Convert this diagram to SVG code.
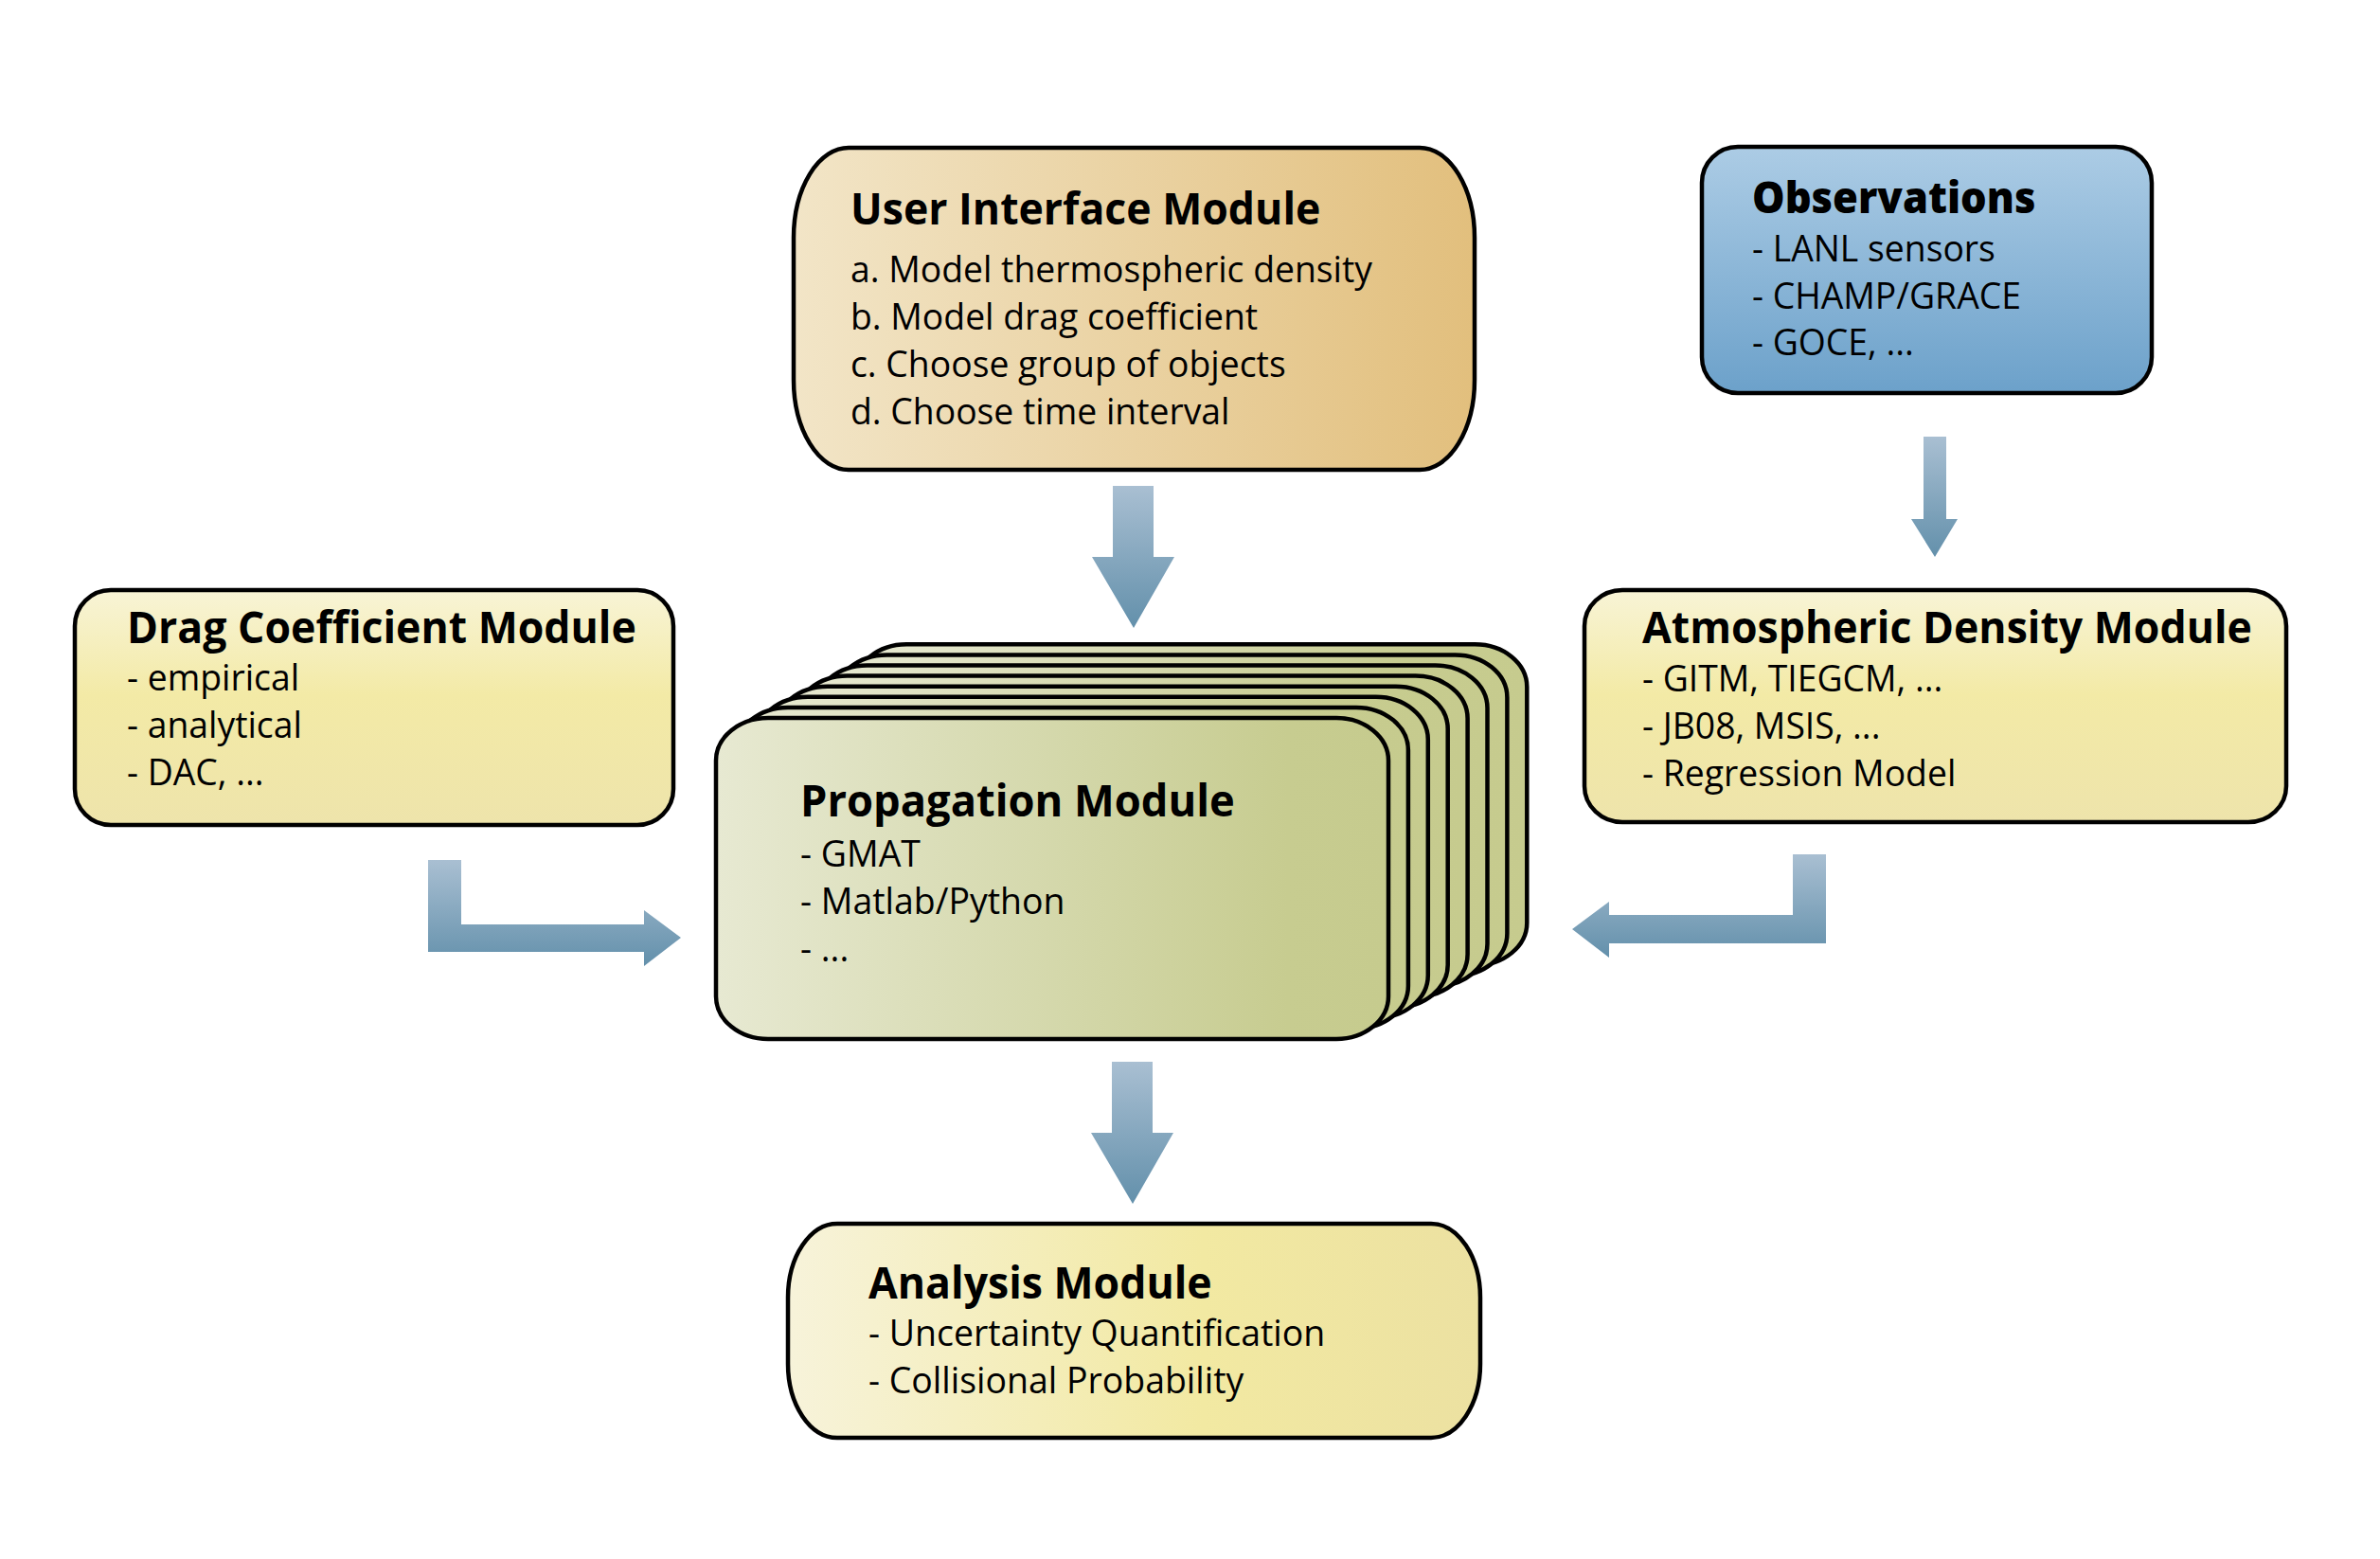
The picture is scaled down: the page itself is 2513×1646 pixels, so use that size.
<svg xmlns="http://www.w3.org/2000/svg" xmlns:xlink="http://www.w3.org/1999/xlink" width="2513" height="1646" viewBox="0 0 2513 1646">
<defs>
<style>
.box{stroke:#000;stroke-width:4.5}
.t{font-family:"Open Sans","Noto Sans","DejaVu Sans",sans-serif;font-weight:700;font-size:46px;fill:#000}
.b{font-family:"Open Sans","Noto Sans","DejaVu Sans",sans-serif;font-weight:400;font-size:39px;fill:#000}
</style>
<linearGradient id="gUI" x1="0" y1="0" x2="1" y2="0">
<stop offset="0" stop-color="#f2e5c7"/><stop offset="1" stop-color="#e2bf7d"/>
</linearGradient>
<linearGradient id="gObs" x1="0" y1="0" x2="0" y2="1">
<stop offset="0" stop-color="#accce5"/><stop offset="1" stop-color="#6ca1ca"/>
</linearGradient>
<linearGradient id="gYel" x1="0" y1="0" x2="0" y2="1">
<stop offset="0" stop-color="#f8f4d6"/><stop offset="0.45" stop-color="#f3eaa6"/><stop offset="1" stop-color="#eee4ab"/>
</linearGradient>
<linearGradient id="gAna" x1="0" y1="0" x2="1" y2="0">
<stop offset="0" stop-color="#f7f3da"/><stop offset="0.6" stop-color="#f2e9a2"/><stop offset="1" stop-color="#ece1a1"/>
</linearGradient>
<linearGradient id="gProp" x1="0" y1="0" x2="1" y2="0">
<stop offset="0" stop-color="#e7e9d2"/><stop offset="0.85" stop-color="#c7cc90"/><stop offset="1" stop-color="#c6cb8e"/>
</linearGradient>
<linearGradient id="gArr" x1="0" y1="0" x2="0" y2="1">
<stop offset="0" stop-color="#a9bfd2"/><stop offset="1" stop-color="#6390ab"/>
</linearGradient>
<rect id="card" x="0" y="0" width="710" height="339" rx="55" ry="45" fill="url(#gProp)" stroke="#000" stroke-width="4.5"/>
</defs>
<rect width="2513" height="1646" fill="#fff"/>

<g id="connectors" fill="url(#gArr)">
<polygon id="arr-ui-prop" points="1175,513 1218,513 1218,588 1240,588 1197,663 1153,588 1175,588"/>
<polygon id="arr-prop-ana" points="1174,1121 1217,1121 1217,1196 1239,1196 1196,1271 1152,1196 1174,1196"/>
<polygon id="arr-obs-atm" points="2031,461 2055,461 2055,548 2067,548 2043,588 2018,548 2031,548"/>
<polygon id="arr-drag-prop" points="452,908 487,908 487,976 680,976 680,961 719,990 680,1020 680,1005 452,1005"/>
<polygon id="arr-atm-prop" points="1928,902 1893,902 1893,966 1699,966 1699,952 1660,981 1699,1011 1699,996 1928,996"/>
</g>

<g id="ui-module">
<rect class="box" x="838" y="156" width="719" height="340" rx="58" ry="95" fill="url(#gUI)"/>
<g transform="translate(898,0) scale(0.97,1)">
<text class="t" x="0" y="237">User Interface Module</text>
</g>
<g transform="translate(898,0) scale(0.957,1)">
<text class="b" x="0" y="298">a. Model thermospheric density</text>
<text class="b" x="0" y="348">b. Model drag coefficient</text>
<text class="b" x="0" y="398">c. Choose group of objects</text>
<text class="b" x="0" y="448">d. Choose time interval</text>
</g>
</g>

<g id="observations">
<rect class="box" x="1797" y="155" width="475" height="260" rx="38" ry="38" fill="url(#gObs)"/>
<g transform="translate(1850,0) scale(0.945,1)">
<text class="t" x="0" y="225" style="font-weight:800">Observations</text>
</g>
<g transform="translate(1850,0) scale(0.957,1)">
<text class="b" x="0" y="276">- LANL sensors</text>
<text class="b" x="0" y="326">- CHAMP/GRACE</text>
<text class="b" x="0" y="375">- GOCE, ...</text>
</g>
</g>

<g id="drag-module">
<rect class="box" x="79" y="623" width="632" height="248" rx="38" ry="38" fill="url(#gYel)"/>
<g transform="translate(134,0) scale(0.97,1)">
<text class="t" x="0" y="679">Drag Coefficient Module</text>
</g>
<g transform="translate(134,0) scale(0.957,1)">
<text class="b" x="0" y="729">- empirical</text>
<text class="b" x="0" y="779">- analytical</text>
<text class="b" x="0" y="829">- DAC, ...</text>
</g>
</g>

<g id="density-module">
<rect class="box" x="1673" y="623" width="741" height="245" rx="40" ry="38" fill="url(#gYel)"/>
<g transform="translate(1734,0) scale(0.97,1)">
<text class="t" x="0" y="679">Atmospheric Density Module</text>
</g>
<g transform="translate(1734,0) scale(0.957,1)">
<text class="b" x="0" y="730">- GITM, TIEGCM, ...</text>
<text class="b" x="0" y="780">- JB08, MSIS, ...</text>
<text class="b" x="0" y="830">- Regression Model</text>
</g>
</g>

<g id="propagation-module">
<use xlink:href="#card" href="#card" x="902.3" y="680.3"/>
<use xlink:href="#card" href="#card" x="881.4" y="691.4"/>
<use xlink:href="#card" href="#card" x="860.5" y="702.5"/>
<use xlink:href="#card" href="#card" x="839.6" y="713.6"/>
<use xlink:href="#card" href="#card" x="818.7" y="724.7"/>
<use xlink:href="#card" href="#card" x="797.8" y="735.8"/>
<use xlink:href="#card" href="#card" x="776.9" y="746.9"/>
<use xlink:href="#card" href="#card" x="756" y="758"/>
<g transform="translate(845,0) scale(0.985,1)">
<text class="t" x="0" y="862">Propagation Module</text>
</g>
<g transform="translate(845,0) scale(0.96,1)">
<text class="b" x="0" y="915">- GMAT</text>
<text class="b" x="0" y="965">- Matlab/Python</text>
<text class="b" x="0" y="1015">- ...</text>
</g>
</g>

<g id="analysis-module">
<rect class="box" x="832" y="1292" width="731" height="226" rx="52" ry="78" fill="url(#gAna)"/>
<g transform="translate(917,0) scale(0.97,1)">
<text class="t" x="0" y="1371">Analysis Module</text>
</g>
<g transform="translate(917,0) scale(0.96,1)">
<text class="b" x="0" y="1421">- Uncertainty Quantification</text>
<text class="b" x="0" y="1471">- Collisional Probability</text>
</g>
</g>
</svg>
